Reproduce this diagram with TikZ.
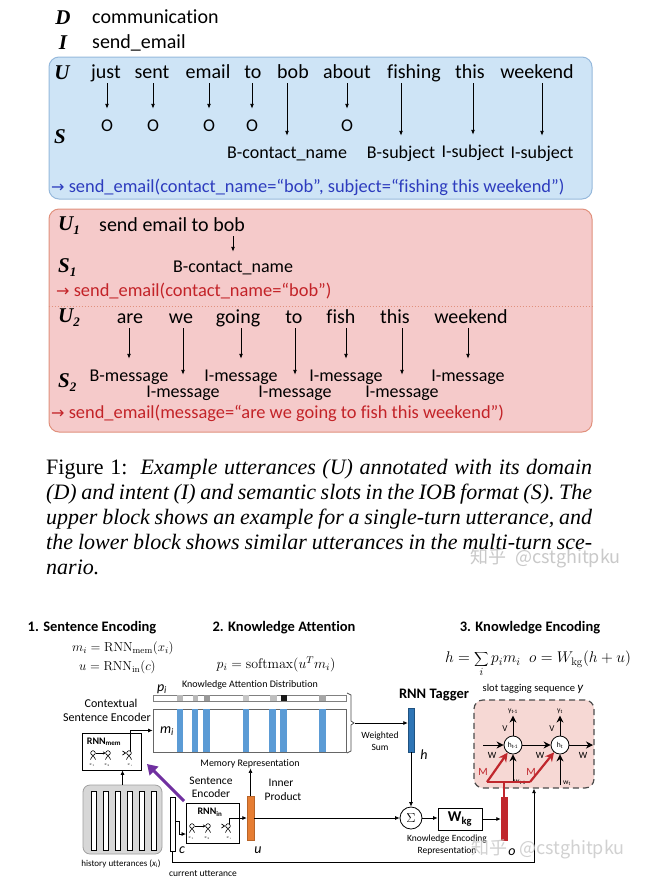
\RequirePackage{fix-cm}
\documentclass[tikz,border=0pt]{standalone}
\usepackage[no-math]{fontspec}
\newfontfamily\carl[Ligatures=NoCommon]{Carlito}
\newfontfamily\tms{Liberation Serif}
\newfontfamily\dv{DejaVu Sans}
\newfontfamily\cjk{Noto Sans CJK SC}
\usetikzlibrary{arrows.meta,calc}
\definecolor{bluefill}{RGB}{206,228,246}
\definecolor{blueedge}{RGB}{150,185,220}
\definecolor{bluetxt}{RGB}{45,60,190}
\definecolor{redfill}{RGB}{245,202,202}
\definecolor{rededge}{RGB}{225,145,125}
\definecolor{redtxt}{RGB}{195,35,40}
\definecolor{pinkfill}{RGB}{246,216,212}
\definecolor{stripe}{RGB}{91,155,213}
\definecolor{barblue}{RGB}{46,117,182}
\definecolor{orng}{RGB}{230,125,50}
\definecolor{darkred}{RGB}{192,39,45}
\definecolor{purp}{RGB}{112,48,160}
\definecolor{histfill}{RGB}{215,215,215}
\definecolor{histedge}{RGB}{160,160,160}
\newcommand\myfs[1]{\fontsize{#1}{#1}\selectfont}
\begin{document}
\begin{tikzpicture}[x=1pt,y=-1pt,
  word/.style={font=\carl\myfs{20}, inner sep=0pt, text height=14pt, text depth=4pt},
  lab/.style={font=\carl\myfs{18}, inner sep=0pt, text height=13pt, text depth=4pt},
  bigl/.style={font=\tms\bfseries\itshape\myfs{21}, inner sep=0pt},
  linetxt/.style={font=\carl\myfs{18.4}, inner sep=0pt, anchor=west},
  tagarr/.style={-{Latex[length=5pt,width=4pt]}, line width=0.9pt, shorten >=9.5pt, shorten <=1pt},
  hd/.style={font=\carl\bfseries\myfs{14.5}, inner sep=0pt},
  eq/.style={font=\myfs{#1}, inner sep=0pt},
  eq/.default=14,
  sm/.style={font=\carl\myfs{#1}, inner sep=0pt, align=center},
  sm/.default=10,
  itl/.style={font=\carl\itshape\myfs{14}, inner sep=0pt},
  arrs/.style={-{Latex[length=4.5pt,width=4pt]}, line width=0.7pt},
  pk/.style={-{Stealth[length=7pt,width=7pt]}, line width=1pt},
  rk/.style={-{Stealth[length=9pt,width=9pt]}, line width=2.2pt, darkred},
  wmk/.style={font=\cjk\myfs{18}, text=gray!42, inner sep=0pt, anchor=west},
  nrn/.pic={\draw[line width=0.6pt] (0,0) circle (2.3); \draw[line width=0.6pt] (-2.6,6.5) -- (0,2.3) -- (2.6,6.5);},
]
\useasboundingbox (0,0) rectangle (649,895);
\fill[white] (0,0) rectangle (649,895);

% ---------- top: D / I ----------
\node[bigl] (D) at (63,18) {D};
\node[word, anchor=west] (dom) at (92,18) {communication};
\node[bigl] (I) at (63,43) {I};
\node[word, anchor=west] (int) at (92,43) {send\_email};

% ---------- blue block ----------
\node[draw=blueedge, fill=bluefill, line width=1pt, rounded corners=10pt, minimum width=543pt, minimum height=142pt, inner sep=0pt] (blue) at (320.5,128) {};
\node[bigl] (U) at (62,73) {U};
\node[bigl] (S) at (60,137) {S};
\foreach \n/\x/\t in {1/106/just,2/152/sent,3/208/email,4/253/to,5/293/bob,6/347/about,7/414/fishing,8/470/this,9/537/weekend}
  \node[word] (w\n) at (\x,73) {\t};
\foreach \n/\x/\y/\t in {1/107/127/O,2/153/127/O,3/209/127/O,4/252/127/O,5/287/154/B-contact\_name,6/347/127/O,7/401/154/B-subject,8/473/153/I-subject,9/542/154/I-subject}
  \node[lab] (s\n) at (\x,\y) {\t};
\foreach \n in {1,...,9}
  \draw[tagarr] (w\n.south -| s\n.north) -- (s\n.north);
\node[linetxt, text=bluetxt] (bline) at (51,187) {{\dv\myfs{16}→} send\_email(contact\_name=“bob”, subject=“fishing this weekend”)};

% ---------- red block ----------
\node[draw=rededge, fill=redfill, line width=1pt, rounded corners=10pt, minimum width=543pt, minimum height=223pt, inner sep=0pt] (red) at (320.5,320.5) {};
\node[bigl, anchor=west] (U1) at (58,226) {U\raisebox{-4pt}{\myfs{13}1}};
\node[word, anchor=west] (u1t) at (99,226) {send email to bob};
\node[lab] (s1l) at (233,268) {B-contact\_name};
\draw[tagarr, shorten >=7.5pt] (u1t.south -| s1l.north) -- (s1l.north);
\node[bigl, anchor=west] (S1) at (58,268) {S\raisebox{-4pt}{\myfs{13}1}};
\node[linetxt, text=redtxt] (rline1) at (56,291) {{\dv\myfs{16}→} send\_email(contact\_name=“bob”)};
\draw[rededge, line width=1pt, dotted] (red.west |- 0,306) -- (red.east |- 0,306);
\node[bigl, anchor=west] (U2) at (58,318) {U\raisebox{-4pt}{\myfs{13}2}};
\node[bigl, anchor=west] (S2) at (58,383) {S\raisebox{-4pt}{\myfs{13}2}};
\foreach \n/\x/\t in {1/130/are,2/181/we,3/238/going,4/294/to,5/341/fish,6/395/this,7/471/weekend}
  \node[word] (v\n) at (\x,318) {\t};
\foreach \n/\x/\y/\t in {1/129/377/B-message,2/183/393/I-message,3/241/377/I-message,4/295/393/I-message,5/346/377/I-message,6/402/393/I-message,7/468/377/I-message}
  \node[lab] (t\n) at (\x,\y) {\t};
\foreach \n in {1,...,7}
  \draw[tagarr] (v\n.south -| t\n.north) -- (t\n.north);
\node[linetxt, text=redtxt] (rline2) at (51,413) {{\dv\myfs{16}→} send\_email(message=“are we going to fish this weekend”)};

% ---------- caption ----------
\node[anchor=base west, inner sep=0pt, font=\tms\fontsize{22}{25}\selectfont] (cap) at (46,474) {\parbox[t]{546pt}{Figure 1:\ \ \textit{Example utterances (U) annotated with its domain\linebreak (D) and intent (I) and semantic slots in the IOB format (S). The\linebreak upper block shows an example for a single-turn utterance, and\linebreak the lower block shows similar utterances in the multi-turn sce-\linebreak nario.}}};
\node[wmk] (wm1) at (470,558) {知乎\hspace{9pt}@cstghitpku};

% ---------- lower diagram: headers ----------
\node[hd] (h1t) at (92,628) {1. Sentence Encoding};
\node[hd] (h2t) at (284,628) {2. Knowledge Attention};
\node[hd] (h3t) at (530,628) {3. Knowledge Encoding};
\node[eq=13, anchor=west] (eqm) at (72,648) {$m_i=\mathrm{RNN}_{\mathrm{mem}}(x_i)$};
\node[eq=13, anchor=west] (equ) at (79,667) {$u=\mathrm{RNN}_{\mathrm{in}}(c)$};
\node[eq=14] (eqp) at (276,664) {$p_i=\mathrm{softmax}(u^Tm_i)$};
\node[eq=15.5] (eqh) at (538,664) {$\displaystyle h=\sum_i p_im_i\;\; o=W_{\mathrm{kg}}(h+u)$};

% ---------- attention ----------
\node[sm=12] (ctx1) at (111,703) {Contextual};
\node[sm=12] (ctx2) at (107,717) {Sentence Encoder};
\node[itl] (pil) at (162,689) {p\textsubscript{i}};
\node[sm=10] (kad) at (250,685) {Knowledge Attention Distribution};
\node[draw=gray, line width=0.8pt, fill=white, minimum width=193pt, minimum height=6pt, inner sep=0pt] (pbar) at (249.5,698) {};
\foreach \a/\b/\c in {177/183/gray!55,193/198/gray!55,204/210/gray!80,243/249/gray!45,270/277/gray!50,281/287/black!90,319/326/gray!70}
  \fill[\c] (\a,695.4) rectangle (\b,700.6);
\node[draw=gray!80!black, line width=0.8pt, fill=white, minimum width=193pt, minimum height=43pt, inner sep=0pt] (mem) at (249.5,730.5) {};
\foreach \a/\b in {177/183,192/198,203/210,243/249,269/276,280/287,319/326}
  \fill[stripe] (\a,709.4) rectangle (\b,751.6);
\node[itl] (mil) at (167,731) {m\textsubscript{i}};
\draw[gray!60!black, line width=0.8pt] (347,693) -- (351,695) -- (351,721) -- (354,723) -- (351,725) -- (351,751) -- (347,753);
\coordinate (brk) at (355,723);
\node[sm=10] (memrep) at (250,764) {Memory Representation};

% ---------- RNN mem / history ----------
\node[draw, line width=0.8pt, fill=white, minimum width=59pt, minimum height=37pt, inner sep=0pt] (rnnmem) at (111.5,751.5) {};
\node[font=\carl\bfseries\myfs{10}, inner sep=0pt] (rmt) at (104,742) {RNN\textsubscript{mem}};
\pic at (93,753) {nrn}; \pic at (108,753) {nrn}; \pic at (129,753) {nrn};
\draw[-{Stealth[length=2.5pt,width=3pt]}, line width=0.6pt] (96,753) -- (105.5,753);
\draw[line width=0.8pt] (122.5,751) -- (125.5,753) -- (122.5,755);
\node[font=\myfs{4}, inner sep=0pt] (rx1) at (92,765) {$x_1$};
\node[font=\myfs{4}, inner sep=0pt] (rx2) at (107,765) {$x_2$};
\node[font=\myfs{4}, inner sep=0pt] (rxi) at (130,765) {$x_i$};
\coordinate (mn) at (130,750.5);
\draw[arrs] (mn) |- (mem.west);
\node[draw=histedge, fill=histfill, line width=0.8pt, rounded corners=7pt, minimum width=79pt, minimum height=69pt, inner sep=0pt] (hist) at (122.5,819.5) {};
\foreach \i in {0,...,5}
  \draw[fill=white, line width=0.7pt] (91.7+\i*12,791) rectangle (96.7+\i*12,850);
\draw[arrs] (hist.north) -- (hist.north |- rnnmem.south);
\node[sm=9] (histl) at (121,864) {history utterances (\textit{x}\textsubscript{i})};

% ---------- current utterance / RNN in ----------
\node[draw, line width=0.7pt, fill=white, minimum width=5pt, minimum height=54pt, inner sep=0pt] (cbar) at (172.5,824) {};
\node[itl] (cl) at (182,850) {c};
\node[sm=9.5] (curl) at (203,874) {current utterance};
\node[sm=11.5] (sen1) at (211,781) {Sentence};
\node[sm=11.5] (sen2) at (211,794) {Encoder};
\node[draw, line width=0.8pt, fill=white, minimum width=53pt, minimum height=40pt, inner sep=0pt] (rnnin) at (212.5,823) {};
\node[font=\carl\bfseries\myfs{10}, inner sep=0pt] (rit) at (210,812) {RNN\textsubscript{in}};
\pic at (192,826) {nrn}; \pic at (208,826) {nrn}; \pic at (228,826) {nrn};
\draw[-{Stealth[length=2.5pt,width=3pt]}, line width=0.6pt] (195,826) -- (205.5,826);
\draw[line width=0.8pt] (221.5,824) -- (224.5,826) -- (221.5,828);
\node[font=\myfs{4}, inner sep=0pt] (ix1) at (191,838) {$x_1$};
\node[font=\myfs{4}, inner sep=0pt] (ix2) at (207,838) {$x_2$};
\node[font=\myfs{4}, inner sep=0pt] (ixi) at (229,838) {$x_i$};
\coordinate (cj) at (179,821);
\coordinate (cin) at (186,834);
\draw[arrs] (cbar.east |- cj) -- (cj) |- (cin);
\coordinate (ni) at (229,823.5);
\node[draw=orng!80!black, line width=0.5pt, fill=orng, minimum width=7pt, minimum height=44pt, inner sep=0pt] (obar) at (250.5,818) {};
\draw[arrs] (ni) |- (obar.west);
\node[itl] (ul) at (258,850) {u};
\draw[arrs] (obar.north) -- (obar.north |- memrep.south);
\node[sm=11.5] (inn1) at (281,783) {Inner};
\node[sm=11.5] (inn2) at (283,797) {Product};
\draw[-{Triangle[length=10pt,width=12pt]}, {Triangle[length=10pt,width=12pt]}-, line width=3pt, purp] (147,764) -- (184,801);

% ---------- RNN tagger ----------
\node[hd] (tagt) at (434,695) {RNN Tagger};
\node[draw=barblue!70!black, line width=0.5pt, fill=barblue, minimum width=6pt, minimum height=44pt, inner sep=0pt] (tbar) at (411,730) {};
\draw[arrs] (brk) -- (brk -| tbar.west);
\node[sm=9.5] (ws1) at (380,736) {Weighted};
\node[sm=9.5] (ws2) at (380,747) {Sum};
\node[itl] (hl) at (424,755) {h};
\node[draw, circle, line width=0.8pt, fill=white, minimum size=22pt, inner sep=0pt, font=\myfs{13}] (sig) at (411,818) {$\Sigma$};
\draw[arrs] (tbar.south) -- (sig.north);
\draw[arrs] (obar.east) -- (sig.west);
\node[draw, line width=0.8pt, fill=white, minimum width=44pt, minimum height=22pt, inner sep=0pt, font=\carl\bfseries\myfs{15}] (wkg) at (460,819) {W\textsubscript{kg}};
\draw[arrs] (sig.east) -- (sig.east -| wkg.west);
\node[draw=darkred, line width=0.5pt, fill=darkred, minimum width=6pt, minimum height=43pt, inner sep=0pt] (rbar) at (504,818.5) {};
\draw[arrs] (wkg.east) -- (wkg.east -| rbar.west);
\node[itl] (ol) at (512,852) {o};
\node[sm=9.5] (ke1) at (447,839) {Knowledge Encoding};
\node[sm=9.5] (ke2) at (447,851) {Representation};

% ---------- slot tagging box ----------
\node[font=\carl\myfs{10.5}, inner sep=0pt] (slt) at (533,689) {slot tagging sequence {\itshape\myfs{13}y}};
\node[draw=black!70, dashed, dash pattern=on 6pt off 4pt, line width=1.2pt, fill=pinkfill, rounded corners=9pt, minimum width=120pt, minimum height=88pt, inner sep=0pt] (pinkbox) at (534,744) {};
\coordinate (loopy) at (0,862);
\draw[arrs] (cbar.south) -- (cbar.south |- loopy) -| (pinkbox.south);
\node[draw, circle, line width=0.8pt, fill=white, minimum size=18pt, inner sep=0pt, font=\carl\myfs{7.5}] (hA) at (513,745) {h\textsubscript{t-1}};
\node[draw, circle, line width=0.8pt, fill=white, minimum size=18pt, inner sep=0pt, font=\carl\myfs{7.5}] (hB) at (560,745) {h\textsubscript{t}};
\coordinate (hin) at (483,745);
\coordinate (hout) at (593,745);
\draw[pk] (hin) -- (hA);
\draw[pk] (hA) -- (hB);
\draw[pk] (hB) -- (hout);
\node[font=\carl\myfs{7.5}, inner sep=0pt] (yA) at (513,711) {y\textsubscript{t-1}};
\node[font=\carl\myfs{7.5}, inner sep=0pt] (yB) at (560,711) {y\textsubscript{t}};
\draw[pk, shorten >=2pt] (hA) -- (yA);
\draw[pk, shorten >=2pt] (hB) -- (yB);
\node[font=\carl\myfs{9}, inner sep=0pt] (vA) at (505,729) {V};
\node[font=\carl\myfs{9}, inner sep=0pt] (vB) at (552,729) {V};
\node[font=\carl\myfs{9.5}, inner sep=0pt] (wA) at (492,755) {W};
\node[font=\carl\myfs{9.5}, inner sep=0pt] (wB) at (540,755) {W};
\node[font=\carl\myfs{9.5}, inner sep=0pt] (wC) at (583,755) {W};
\node[font=\carl\myfs{7.5}, inner sep=0pt] (xA) at (520,782) {w\textsubscript{t-1}};
\node[font=\carl\myfs{7.5}, inner sep=0pt] (xB) at (567,783) {w\textsubscript{t}};
\draw[pk] ([yshift=-3pt]xA.north -| hA.south) -- (hA);
\draw[pk] ([yshift=-5pt]xB.north -| hB.south) -- (hB);
\coordinate (mj) at (504,782);
\coordinate (ml) at (487,782);
\coordinate (mr) at (530,782);
\draw[darkred, line width=2.2pt] (rbar.north) -- (mj);
\draw[darkred, line width=2.2pt] (ml) -- (mr);
\draw[rk] (ml) -- (hA);
\draw[rk] (mr) -- (hB);
\node[font=\carl\myfs{11}, text=darkred, inner sep=0pt] (mA) at (483,772) {M};
\node[font=\carl\myfs{11}, text=darkred, inner sep=0pt] (mB) at (531,772) {M};

\node[wmk, opacity=0.85] (wm2) at (471,849) {知乎\hspace{12pt}@cstghitpku};
\end{tikzpicture}
\end{document}
